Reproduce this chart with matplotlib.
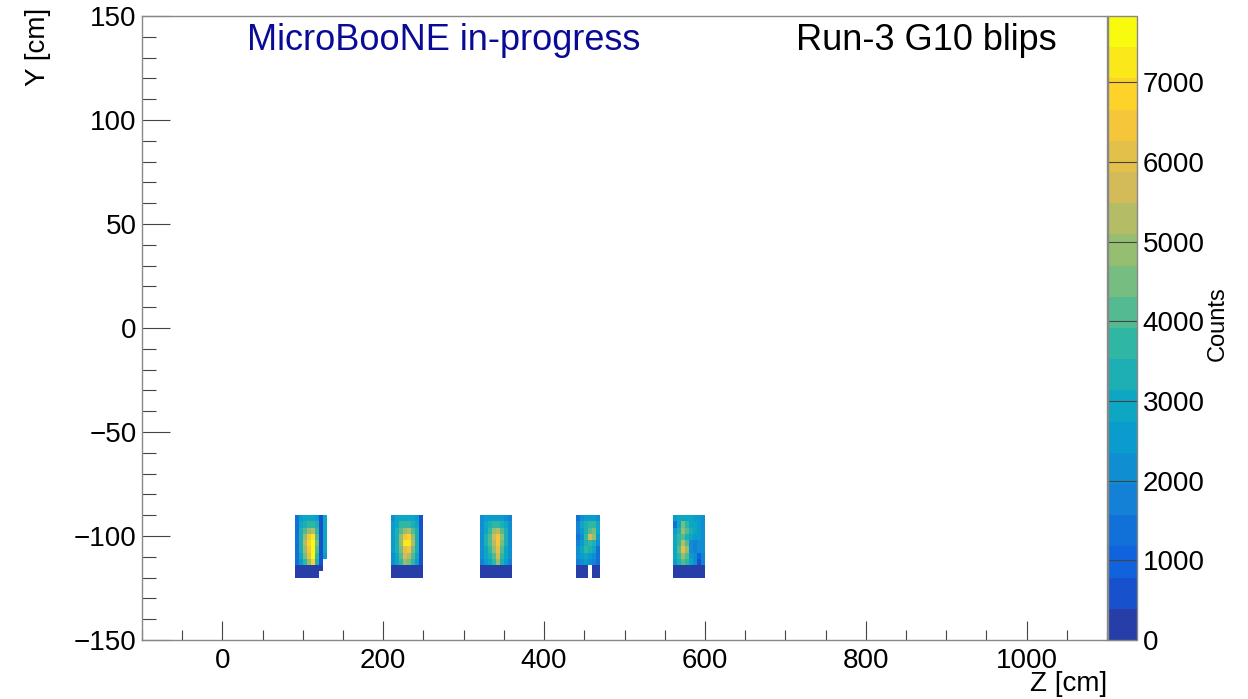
import numpy as np
import matplotlib
matplotlib.use("Agg")
import matplotlib.pyplot as plt
from matplotlib.colors import LinearSegmentedColormap, ListedColormap, BoundaryNorm
from matplotlib.ticker import MultipleLocator

plt.rcParams['font.family'] = ['Liberation Sans', 'DejaVu Sans']

# G10 blip counts, 5 cm bins in Z, 3 cm bins in Y (-120 .. -90)
# each block: rows listed from top (y=-90) to bottom (y=-120), nan = empty bin
y_edges = np.arange(-120, -89, 3)

z0_a = 90
counts_a = [
    [1300, 2600, 2900, 2900, 2900, 2600, 500, 2800],
    [1300, 2900, 3500, 3800, 3800, 3200, 500, 2900],
    [1400, 3200, 4200, 4900, 5300, 3800, 500, 3000],
    [1400, 3300, 5000, 6300, 7200, 4200, 500, 3000],
    [1400, 3400, 5300, 6800, 7800, 4400, 500, 2900],
    [1400, 3300, 5000, 6600, 7830, 4300, 500, 2800],
    [1300, 3000, 4500, 6000, 7600, 3900, 500, 2700],
    [1200, 2700, 3800, 5000, 6800, 3500, 500, np.nan],
    [200, 200, 200, 200, 200, 200, 300, np.nan],
    [200, 200, 200, 200, 200, 200, np.nan, np.nan],
]

z0_b = 210
counts_b = [
    [2200, 2800, 3000, 3000, 3000, 2900, 2600, 500],
    [2400, 3100, 3600, 3900, 3900, 3500, 2900, 500],
    [2500, 3300, 4200, 5000, 5200, 4300, 3200, 500],
    [2500, 3400, 4800, 6600, 7000, 5000, 3400, 500],
    [2500, 3400, 5000, 7400, 7300, 5100, 3400, 500],
    [2400, 3300, 4600, 6200, 6300, 4600, 3300, 500],
    [2300, 3100, 4100, 5500, 5400, 4100, 3000, 500],
    [2100, 2800, 3600, 4800, 4600, 3600, 2700, 500],
    [200, 200, 200, 200, 200, 200, 200, 200],
    [200, 200, 200, 200, 200, 200, 200, 200],
]

z0_c = 320
counts_c = [
    [2000, 2400, 2500, 2500, 2500, 2400, 2300, 1800],
    [2200, 2800, 3300, 3600, 3600, 3300, 2800, 2000],
    [2300, 3100, 3900, 4800, 5300, 4200, 3200, 2100],
    [2300, 3200, 4300, 5600, 6500, 4800, 3400, 2200],
    [2300, 3200, 4200, 5300, 6400, 4500, 3300, 2200],
    [2200, 3000, 3900, 4700, 6000, 4100, 3100, 2100],
    [2100, 2800, 3500, 4200, 5600, 3700, 2900, 2000],
    [1900, 2500, 3000, 3600, 4800, 3200, 2600, 1800],
    [200, 200, 200, 200, 200, 200, 200, 200],
    [200, 200, 200, 200, 200, 200, 200, 200],
]

z0_d = 440
counts_d = [
    [1300, 2200, 2500, 2600, 2400, 2200],
    [1800, 2800, 3300, 3600, 3800, 2900],
    [1600, 2400, 3400, 4200, 4400, 2800],
    [1400, 2100, 3600, 5600, 4700, 2600],
    [1900, 2700, 3300, 3900, 3500, 2000],
    [2200, 3000, 3700, 3400, 2800, 1500],
    [2000, 2600, 3000, 2700, 2200, 1200],
    [1600, 2300, 2500, 2200, 1600, 1300],
    [200, 250, 200, np.nan, 200, 200],
    [200, 250, 200, np.nan, 200, 200],
]

z0_e = 560
counts_e = [
    [2600, 2800, 2900, 2900, 2800, 2700, 2500, 2300],
    [1300, 2900, 4600, 3600, 3100, 2900, 2600, 2300],
    [2400, 3200, 4900, 4000, 3400, 3000, 2600, 2200],
    [3000, 3900, 4200, 3200, 3000, 2700, 2400, 2200],
    [2800, 3800, 5200, 4300, 2300, 1900, 2300, 2100],
    [2900, 4100, 6000, 4700, 2000, 1800, 2100, 2000],
    [3000, 3700, 5000, 4300, 2500, 2200, 1000, 1800],
    [2700, 3400, 4300, 3800, 2800, 2300, 700, 1600],
    [200, 200, 200, 200, 200, 200, 200, 200],
    [200, 200, 200, 200, 200, 200, 200, 200],
]

blocks = [(z0_a, counts_a), (z0_b, counts_b), (z0_c, counts_c),
          (z0_d, counts_d), (z0_e, counts_e)]

z_bin = 5
z_max = 7832
n_contours = 20

# ROOT kBird palette, 255 colours, one picked per contour level
stops = [0.0, 0.125, 0.25, 0.375, 0.5, 0.625, 0.75, 0.875, 1.0]
red = [0.2082, 0.0592, 0.0780, 0.0232, 0.1802, 0.5301, 0.8186, 0.9956, 0.9764]
green = [0.1664, 0.3599, 0.5041, 0.6419, 0.7178, 0.7492, 0.7328, 0.7862, 0.9832]
blue = [0.5293, 0.8684, 0.8385, 0.7914, 0.6425, 0.4662, 0.3499, 0.1968, 0.0539]
bird = LinearSegmentedColormap.from_list(
    'bird', [(s, (r, g, b)) for s, r, g, b in zip(stops, red, green, blue)])
ncol = 255
picks = [int((i + 0.99) * ncol / n_contours) / (ncol - 1) for i in range(n_contours)]
cmap = ListedColormap([bird(min(p, 1.0)) for p in picks])
levels = np.linspace(0, z_max, n_contours + 1)
norm = BoundaryNorm(levels, cmap.N)

W, H = 1248, 699
fig = plt.figure(figsize=(W / 100, H / 100), dpi=100)
ax = fig.add_axes([142 / W, 1 - 640 / H, (1107 - 142) / W, (640 - 16) / H])
cax = fig.add_axes([1108 / W, 1 - 640 / H, (1137 - 1108) / W, (640 - 16) / H])

for z0, counts in blocks:
    c = np.array(counts, dtype=float)[::-1]
    c = np.ma.masked_invalid(c)
    z_edges = z0 + z_bin * np.arange(c.shape[1] + 1)
    ax.pcolormesh(z_edges, y_edges, c, cmap=cmap, norm=norm)

ax.set_xlim(-100, 1100)
ax.set_ylim(-150, 150)
ax.xaxis.set_major_locator(MultipleLocator(200))
ax.xaxis.set_minor_locator(MultipleLocator(50))
ax.yaxis.set_major_locator(MultipleLocator(50))
ax.yaxis.set_minor_locator(MultipleLocator(10))
ax.tick_params(axis='both', which='both', direction='in', top=False, right=False,
               color='#444444', width=0.8, labelsize=20)
ax.tick_params(axis='x', which='major', length=14, pad=6)
ax.tick_params(axis='x', which='minor', length=7)
ax.tick_params(axis='y', which='major', length=20, pad=4)
ax.tick_params(axis='y', which='minor', length=10)
for sp in ax.spines.values():
    sp.set_color('#888888')
    sp.set_linewidth(1.0)

sm = plt.cm.ScalarMappable(cmap=cmap, norm=norm)
cb = fig.colorbar(sm, cax=cax, ticks=np.arange(0, 7001, 1000))
cb.ax.tick_params(direction='in', length=21, width=0.8, color='#444444',
                  labelsize=20, pad=4)
cb.ax.set_yticklabels([str(v) for v in range(0, 7001, 1000)])
cb.outline.set_edgecolor('#888888')
cb.outline.set_linewidth(1.0)
cb.ax.minorticks_off()

fig.text(1218 / W, 1 - 324 / H, 'Counts', rotation=90, ha='center', va='center',
         fontsize=17, family=['Liberation Sans Narrow', 'Liberation Sans'])
fig.text(38 / W, 1 - 8 / H, 'Y [cm]', rotation=90, ha='center', va='top', fontsize=20)
fig.text(1107 / W, 1 - 684 / H, 'Z [cm]', ha='right', va='center', fontsize=20)
fig.text(444 / W, 1 - 40 / H, 'MicroBooNE in-progress', ha='center', va='center',
         fontsize=26, color='#0a0a96')
fig.text(926 / W, 1 - 40 / H, 'Run-3 G10 blips', ha='center', va='center',
         fontsize=26, color='black')

fig.savefig('out.png', dpi=100)
